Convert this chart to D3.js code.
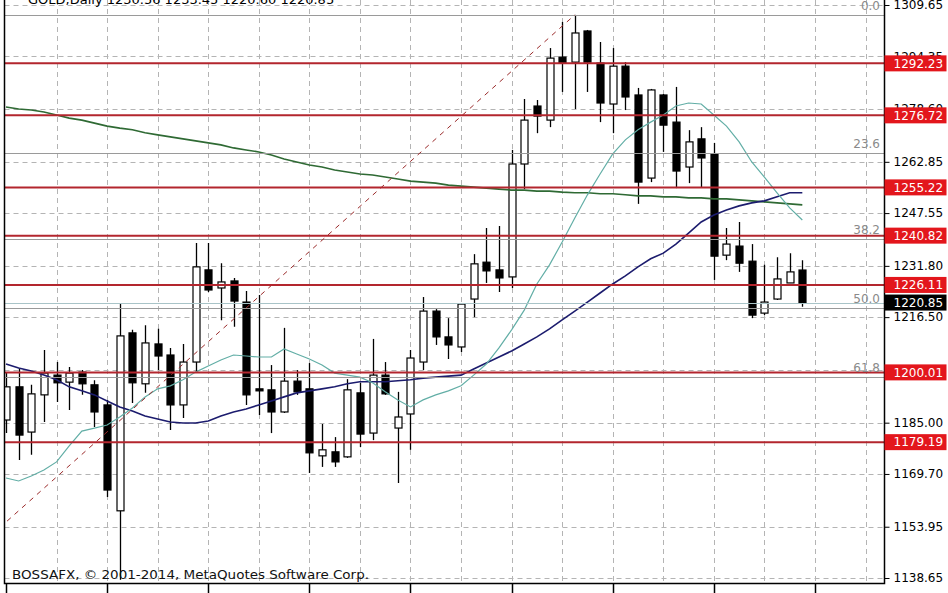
<!DOCTYPE html>
<html>
<head>
<meta charset="utf-8">
<script src="https://cdn.jsdelivr.net/npm/d3@7"></script>
<style>
  body { margin: 0; background: #fff; }
  svg { display: block; }
  text { font-family: "DejaVu Sans", sans-serif; }
</style>
</head>
<body>
<svg width="948" height="593"></svg>
<script>
// GOLD daily, 64 bars
const opens = [1185.8,1195.7,1182.2,1193.3,1199.2,1197.1,1200.1,1196.3,1190.3,1158.7,
  1211.8,1196.6,1208.5,1205.2,1190.3,1203.1,1230.6,1225.2,1227.3,1221.0,
  1195.1,1194.8,1188.2,1197.4,1195.1,1175.1,1176.3,1174.8,1193.9,1181.9,
  1199.2,1183.4,1187.6,1203.1,1218.3,1210.6,1207.6,1221.9,1232.9,1230.6,
  1228.5,1262.2,1279.5,1275.3,1294.1,1292.6,1301.9,1292.3,1280.1,1291.4,
  1282.8,1258.0,1282.8,1274.7,1261.3,1269.7,1265.2,1235.0,1237.7,1233.2,
  1217.7,1221.9,1226.7,1230.56];
const highs = [1200.1,1201.3,1196.3,1206.7,1203.1,1201.6,1200.7,1197.7,1191.8,1220.4,
  1212.7,1214.1,1213.0,1207.3,1208.5,1238.6,1238.6,1232.6,1228.2,1224.3,
  1223.1,1202.2,1213.3,1200.7,1202.8,1184.6,1180.7,1198.0,1196.9,1210.0,
  1203.1,1194.2,1206.7,1222.5,1218.9,1216.2,1220.7,1235.3,1243.1,1243.7,
  1266.4,1281.6,1281.3,1296.8,1304.6,1306.7,1302.2,1298.6,1296.8,1292.6,
  1284.9,1284.6,1283.1,1285.2,1272.3,1273.2,1268.5,1243.1,1244.9,1238.3,
  1232.1,1234.4,1235.6,1233.45];
const lows = [1181.9,1173.9,1175.4,1185.2,1191.2,1188.8,1193.3,1183.7,1162.8,1138.1,
  1190.9,1193.9,1200.7,1182.8,1186.4,1199.8,1224.0,1215.6,1213.6,1190.3,
  1187.3,1181.9,1187.9,1193.3,1170.0,1171.8,1171.8,1174.5,1177.7,1179.8,
  1193.3,1167.0,1176.9,1200.7,1208.2,1204.0,1206.1,1216.5,1226.7,1224.0,
  1225.2,1254.7,1271.4,1273.2,1283.7,1278.6,1283.7,1274.7,1271.4,1278.3,
  1250.3,1256.8,1265.8,1255.0,1256.5,1255.3,1227.6,1233.5,1230.0,1216.2,
  1217.1,1221.6,1226.7,1219.6];
const closes = [1195.7,1181.3,1193.6,1199.8,1196.9,1199.8,1196.6,1188.2,1164.9,1210.9,
  1196.9,1208.8,1204.9,1190.3,1203.1,1231.5,1224.6,1227.0,1221.3,1193.3,
  1194.5,1188.2,1197.4,1194.2,1176.0,1176.9,1173.3,1194.8,1181.6,1199.2,
  1193.6,1186.7,1204.3,1218.3,1210.6,1208.2,1220.4,1232.4,1230.3,1228.2,
  1262.2,1275.3,1276.5,1293.8,1292.3,1301.3,1292.6,1280.4,1291.4,1282.2,
  1256.8,1284.3,1273.8,1260.1,1268.8,1264.0,1234.7,1238.3,1232.6,1217.1,
  1221.0,1227.9,1230.0,1220.85];

// moving averages
const maFast = [1168.5,1167.6,1169.1,1170.9,1173.3,1178.1,1182.5,1183.4,1184.3,1186.7,
  1189.4,1192.7,1195.1,1196.0,1197.8,1200.1,1201.9,1203.7,1205.2,1204.9,
  1204.6,1204.6,1207.0,1205.5,1204.0,1202.2,1199.8,1199.2,1198.6,1196.9,
  1194.2,1191.8,1189.7,1191.8,1193.3,1194.5,1196.0,1199.2,1202.5,1207.3,
  1212.7,1218.6,1226.4,1232.1,1238.9,1246.1,1253.0,1259.2,1265.2,1269.4,
  1272.4,1274.7,1276.8,1279.5,1280.4,1280.1,1276.8,1273.5,1268.8,1262.8,
  1258.3,1253.6,1249.1,1245.5];
const maMid = [1202.5,1201.3,1200.4,1199.2,1197.8,1195.7,1194.5,1193.3,1191.5,1189.7,
  1188.5,1187.0,1186.1,1185.2,1184.9,1184.9,1185.5,1187.0,1188.2,1189.1,
  1190.3,1191.5,1192.7,1193.9,1194.5,1195.1,1195.7,1196.6,1197.2,1197.2,
  1197.2,1197.5,1197.8,1198.3,1198.6,1198.9,1199.2,1201.0,1202.8,1204.6,
  1206.4,1208.5,1210.6,1213.0,1215.7,1218.3,1221.0,1223.7,1226.4,1228.8,
  1231.5,1233.9,1235.6,1238.3,1241.6,1244.9,1247.0,1248.5,1249.7,1250.6,
  1251.2,1252.4,1253.6,1253.6];
const maSlow = [1279.2,1278.6,1278.3,1277.7,1276.8,1275.9,1275.3,1274.4,1273.5,1272.9,
  1272.4,1271.5,1270.9,1270.3,1269.7,1269.1,1268.5,1267.9,1267.0,1266.4,
  1265.8,1264.9,1263.7,1262.8,1261.9,1261.3,1260.4,1259.8,1259.2,1258.9,
  1258.3,1257.7,1257.1,1256.8,1256.5,1255.9,1255.6,1255.3,1255.0,1254.7,
  1254.4,1254.4,1254.1,1254.1,1253.8,1253.6,1253.6,1253.3,1253.3,1253.0,
  1252.7,1252.7,1252.4,1252.4,1252.1,1252.1,1251.8,1251.8,1251.5,1251.2,
  1250.9,1250.6,1250.3,1250.0];

const priceTicks = [1309.65,1294.35,1278.60,1262.85,1247.55,1231.80,1216.50,1200.75,1185.00,1169.70,1153.95,1138.65];
const levels = [1292.23,1276.72,1255.22,1240.82,1226.11,1200.01,1179.19];
const bid = 1220.85;

const fibRatios = [0, 23.6, 38.2, 50.0, 61.8];
const fibHigh = 1306.7, fibHighBar = 45;
const fibLow = 1131.8, fibLowBar = -7;

const header = "GOLD,Daily  1230.56 1233.45 1220.60 1220.85";
const copyright = "BOSSAFX, \u00A9 2001-2014, MetaQuotes Software Corp.";

const width = 948, height = 593;
const plotLeft = 4.5, plotRight = 884.5, plotTop = 0, plotBottom = 583.5;

const x = d3.scaleLinear().domain([0, 69]).range([6, 6 + 12.64 * 69]);
const y = d3.scaleLinear().domain([1138.65, 1309.65]).range([578, 5]);

const svg = d3.select("svg").attr("viewBox", [0, 0, width, height]);

svg.append("defs").append("clipPath").attr("id", "plot")
    .append("rect").attr("x", plotLeft).attr("y", plotTop)
    .attr("width", plotRight - plotLeft).attr("height", plotBottom - plotTop);

const bars = opens.map((o, i) => ({i, o, h: highs[i], l: lows[i], c: closes[i]}));

// grid
const grid = svg.append("g").attr("stroke", "#b4b4b4").attr("stroke-dasharray", "5,4").attr("stroke-width", 1);
grid.selectAll("line.h").data(priceTicks).join("line")
    .attr("x1", plotLeft).attr("x2", plotRight)
    .attr("y1", d => Math.round(y(d)) + 0.5).attr("y2", d => Math.round(y(d)) + 0.5);
grid.selectAll("line.v").data(d3.range(4, 70, 4)).join("line")
    .attr("x1", d => Math.round(x(d)) + 0.5).attr("x2", d => Math.round(x(d)) + 0.5)
    .attr("y1", plotTop).attr("y2", plotBottom);

const plot = svg.append("g").attr("clip-path", "url(#plot)");

// candles
const candle = plot.append("g").selectAll("g").data(bars).join("g");
candle.append("line")
    .attr("x1", d => Math.round(x(d.i)) + 0.5).attr("x2", d => Math.round(x(d.i)) + 0.5)
    .attr("y1", d => y(d.h)).attr("y2", d => y(d.l))
    .attr("stroke", "#000").attr("stroke-width", 1.3);
candle.append("rect")
    .attr("x", d => Math.round(x(d.i)) - 3)
    .attr("y", d => y(Math.max(d.o, d.c)))
    .attr("width", 7)
    .attr("height", d => Math.max(1, Math.abs(y(d.o) - y(d.c))))
    .attr("fill", d => d.c >= d.o ? "#fff" : "#000")
    .attr("stroke", "#000").attr("stroke-width", 1.2);

// moving averages
const line = d3.line().x((d, i) => x(i)).y(d => y(d));
plot.append("path").datum(maSlow).attr("d", line)
    .attr("fill", "none").attr("stroke", "#2f6a34").attr("stroke-width", 1.6);
plot.append("path").datum(maMid).attr("d", line)
    .attr("fill", "none").attr("stroke", "#1c1c6e").attr("stroke-width", 1.6);
plot.append("path").datum(maFast).attr("d", line)
    .attr("fill", "none").attr("stroke", "#62aea6").attr("stroke-width", 1.2);

// fibonacci
const fibLevels = fibRatios.map(r => ({r, p: fibHigh - r / 100 * (fibHigh - fibLow)}));
plot.append("g").selectAll("line").data(fibLevels).join("line")
    .attr("x1", plotLeft).attr("x2", plotRight)
    .attr("y1", d => Math.round(y(d.p)) + 0.5).attr("y2", d => Math.round(y(d.p)) + 0.5)
    .attr("stroke", "#9a9a9a").attr("stroke-width", 1);
svg.append("g").selectAll("text").data(fibLevels).join("text")
    .attr("x", 880).attr("y", d => y(d.p) - 5)
    .attr("text-anchor", "end")
    .attr("font-size", 12).attr("fill", "#8a8a8a")
    .text(d => d.r.toFixed(1));
plot.append("line")
    .attr("x1", x(fibLowBar)).attr("y1", y(fibLow))
    .attr("x2", x(fibHighBar)).attr("y2", y(fibHigh))
    .attr("stroke", "#9b2b2b").attr("stroke-width", 1).attr("stroke-dasharray", "5,5");

// bid line
plot.append("line")
    .attr("x1", plotLeft).attr("x2", plotRight)
    .attr("y1", Math.round(y(bid)) + 0.5).attr("y2", Math.round(y(bid)) + 0.5)
    .attr("stroke", "#a9c4c8").attr("stroke-width", 1);

// horizontal levels
plot.append("g").selectAll("line").data(levels).join("line")
    .attr("x1", plotLeft).attr("x2", plotRight)
    .attr("y1", d => y(d)).attr("y2", d => y(d))
    .attr("stroke", "#b3262e").attr("stroke-width", 2);

// frame
svg.append("path")
    .attr("d", `M${plotLeft},${plotTop}V${plotBottom}H${plotRight}V${plotTop}`)
    .attr("fill", "none").attr("stroke", "#000").attr("stroke-width", 1.5);
svg.append("g").selectAll("line").data(d3.range(0, 70, 8)).join("line")
    .attr("x1", d => Math.round(x(d)) + 0.5).attr("x2", d => Math.round(x(d)) + 0.5)
    .attr("y1", plotBottom).attr("y2", height)
    .attr("stroke", "#000").attr("stroke-width", 1.5);

// price axis
const axis = svg.append("g")
    .attr("transform", `translate(${plotRight},0)`)
    .call(d3.axisRight(y).tickValues(priceTicks).tickSize(5).tickPadding(4).tickFormat(d3.format(".2f")));
axis.select(".domain").remove();
axis.selectAll("text").attr("font-size", 12).attr("font-family", "DejaVu Sans").attr("fill", "#000");
axis.selectAll("line").attr("stroke", "#000");

// price labels
const tags = svg.append("g").selectAll("g")
    .data(levels.map(p => ({p, bg: "#e3161c"})).concat([{p: bid, bg: "#000"}]))
    .join("g").attr("transform", d => `translate(${plotRight},${y(d.p)})`);
tags.append("rect").attr("x", 0).attr("y", -8).attr("width", 62).attr("height", 16)
    .attr("fill", d => d.bg);
tags.append("text").attr("x", 9).attr("dy", "0.35em")
    .attr("font-size", 12).attr("fill", "#fff")
    .text(d => d3.format(".2f")(d.p));

// texts
svg.append("text").attr("x", 28).attr("y", 3.5)
    .attr("font-size", 13).attr("fill", "#000").text(header);
svg.append("text").attr("x", 12).attr("y", 579)
    .attr("font-size", 13).attr("fill", "#111")
    .attr("textLength", 357).attr("lengthAdjust", "spacingAndGlyphs")
    .text(copyright);
</script>
</body>
</html>
